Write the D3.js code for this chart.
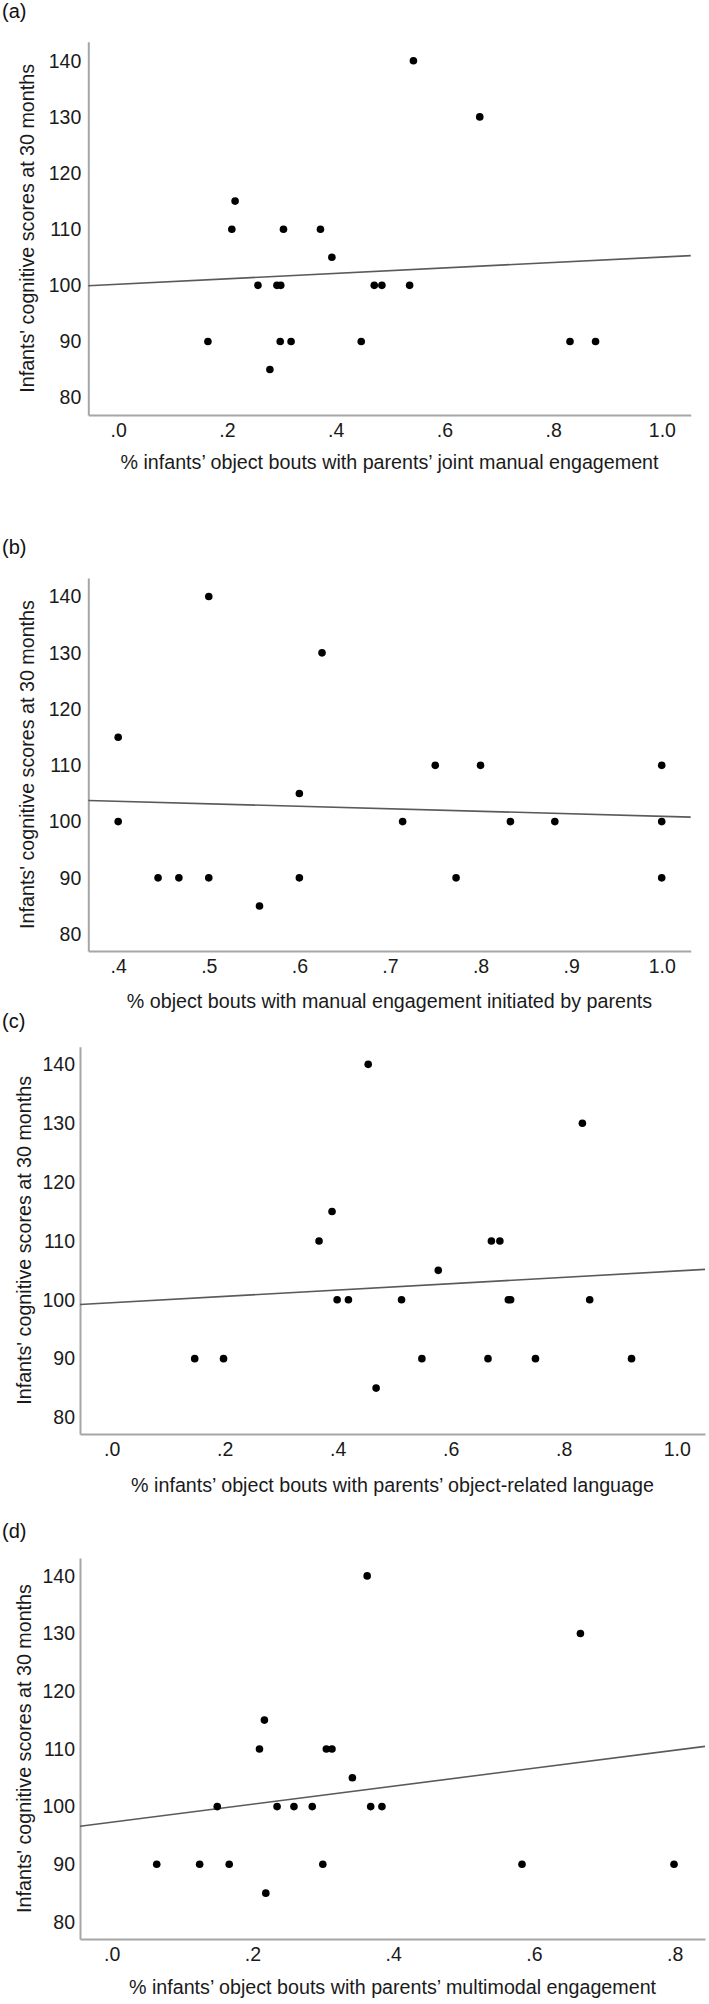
<!DOCTYPE html>
<html>
<head>
<meta charset="utf-8">
<script src="https://cdn.jsdelivr.net/npm/d3@7"></script>
<style>
  body { margin: 0; background: #fff; }
  text { font-family: "Liberation Sans", Arial, sans-serif; }
</style>
</head>
<body>
<svg width="709" height="2004"></svg>
<script>
// ---- data ----
var yTicks = [80, 90, 100, 110, 120, 130, 140];
var yTitle = "Infants' cognitive scores at 30 months";

// (a) joint manual engagement
var aX = [0.543, 0.665, 0.215, 0.209, 0.304, 0.372, 0.393, 0.257, 0.292, 0.299, 0.471, 0.485, 0.536,
          0.165, 0.298, 0.318, 0.447, 0.279, 0.831, 0.878];
var aY = [140, 130, 115, 110, 110, 110, 105, 100, 100, 100, 100, 100, 100,
          90, 90, 90, 90, 85, 90, 90];
var aTicks = [0, 0.2, 0.4, 0.6, 0.8, 1.0];
var aFit = [100.2, 4.83];   // intercept, slope

// (b) manual engagement initiated by parents
var bX = [0.5, 0.625, 0.4, 0.4, 0.6, 0.75, 0.8, 1.0, 0.714, 0.833, 0.882, 1.0,
          0.444, 0.467, 0.5, 0.6, 0.773, 1.0, 0.556];
var bY = [140, 130, 115, 100, 105, 110, 110, 110, 100, 100, 100, 100,
          90, 90, 90, 90, 90, 90, 85];
var bTicks = [0.4, 0.5, 0.6, 0.7, 0.8, 0.9, 1.0];
var bFit = [105.4, -4.46];

// (c) object-related language
var cX = [0.454, 0.833, 0.390, 0.367, 0.672, 0.687, 0.578, 0.399, 0.419, 0.513, 0.702, 0.706, 0.846,
          0.147, 0.198, 0.549, 0.666, 0.750, 0.920, 0.468];
var cY = [140, 130, 115, 110, 110, 110, 105, 100, 100, 100, 100, 100, 100,
          90, 90, 90, 90, 90, 90, 85];
var cTicks = [0, 0.2, 0.4, 0.6, 0.8, 1.0];
var cFit = [99.5, 5.4];

// (d) multimodal engagement
var dX = [0.363, 0.666, 0.217, 0.210, 0.305, 0.313, 0.342, 0.150, 0.235, 0.259, 0.285, 0.368, 0.384,
          0.064, 0.125, 0.167, 0.300, 0.583, 0.799, 0.219];
var dY = [140, 130, 115, 110, 110, 110, 105, 100, 100, 100, 100, 100, 100,
          90, 90, 90, 90, 90, 90, 85];
var dTicks = [0, 0.2, 0.4, 0.6, 0.8];
var dFit = [97.3, 15.6];

var panelTags = ["(a)", "(b)", "(c)", "(d)"];
var xTitles = [
  "% infants\u2019 object bouts with parents\u2019 joint manual engagement",
  "% object bouts with manual engagement initiated by parents",
  "% infants\u2019 object bouts with parents\u2019 object-related language",
  "% infants\u2019 object bouts with parents\u2019 multimodal engagement"
];

// ---- layout for each panel (pixels) ----
var panels = [
  { tag: 17.5, left: 88.3, right: 690.7, top: 41.7, bottom: 415, xd: [-0.055, 1.053], yd: [76.9, 143.4],
    xs: aX, ys: aY, ticks: aTicks, fit: aFit, ttl: 54, lab: 34 },
  { tag: 554, left: 88.3, right: 690.7, top: 578, bottom: 951, xd: [0.367, 1.032], yd: [77.0, 143.3],
    xs: bX, ys: bY, ticks: bTicks, fit: bFit, ttl: 57, lab: 34 },
  { tag: 1028, left: 80, right: 705, top: 1046.7, bottom: 1434, xd: [-0.056, 1.050], yd: [77.2, 143.0],
    xs: cX, ys: cY, ticks: cTicks, fit: cFit, ttl: 58, lab: 31 },
  { tag: 1538, left: 80, right: 705, top: 1558, bottom: 1939, xd: [-0.045, 0.843], yd: [77.05, 143.1],
    xs: dX, ys: dY, ticks: dTicks, fit: dFit, ttl: 55, lab: 31 }
];

var svg = d3.select('svg');
var fmt = function(v) { return d3.format('.1f')(v).replace(/^0\./, '.'); };

panels.forEach(function(p, i) {
  var x = d3.scaleLinear().domain(p.xd).range([p.left, p.right]);
  var y = d3.scaleLinear().domain(p.yd).range([p.bottom, p.top]);
  var g = svg.append('g');

  // panel tag
  g.append('text')
    .attr('x', 2).attr('y', p.tag)
    .attr('font-size', 20).attr('fill', '#111')
    .text(panelTags[i]);

  // x axis (no tick marks, SPSS style)
  var xa = g.append('g')
    .attr('transform', 'translate(0,' + p.bottom + ')')
    .call(d3.axisBottom(x).tickValues(p.ticks).tickFormat(fmt).tickSize(0).tickPadding(8));
  xa.select('.domain').attr('stroke', '#a6a6a6').attr('stroke-width', 2);
  xa.selectAll('text').attr('font-size', 19.5).attr('fill', '#1a1a1a')
    .attr('font-family', '"Liberation Sans", Arial, sans-serif');

  // y axis
  var ya = g.append('g')
    .attr('transform', 'translate(' + p.left + ',0)')
    .call(d3.axisLeft(y).tickValues(yTicks).tickSize(0).tickPadding(i < 2 ? 7 : 5));
  ya.select('.domain').attr('stroke', '#a6a6a6').attr('stroke-width', 2);
  ya.selectAll('text').attr('font-size', 19.5).attr('fill', '#1a1a1a')
    .attr('font-family', '"Liberation Sans", Arial, sans-serif');

  // axis titles
  g.append('text')
    .attr('text-anchor', 'middle')
    .attr('x', (p.left + p.right) / 2)
    .attr('y', p.bottom + p.ttl)
    .attr('font-size', 19.7).attr('fill', '#1a1a1a')
    .text(xTitles[i]);

  g.append('text')
    .attr('text-anchor', 'middle')
    .attr('transform', 'translate(' + p.lab + ',' + ((p.top + p.bottom) / 2) + ') rotate(-90)')
    .attr('font-size', 19.7).attr('fill', '#1a1a1a')
    .text(yTitle);

  // fit line across the whole plot width
  var line = d3.line()
    .x(function(d) { return x(d); })
    .y(function(d) { return y(p.fit[0] + p.fit[1] * d); });
  g.append('path')
    .datum(p.xd)
    .attr('d', line)
    .attr('fill', 'none')
    .attr('stroke', '#5a5a5a')
    .attr('stroke-width', 1.6);

  // points
  g.selectAll('circle')
    .data(p.xs)
    .enter()
    .append('circle')
    .attr('cx', function(d) { return x(d); })
    .attr('cy', function(d, j) { return y(p.ys[j]); })
    .attr('r', 3.8)
    .attr('fill', '#000');
});
</script>
</body>
</html>
